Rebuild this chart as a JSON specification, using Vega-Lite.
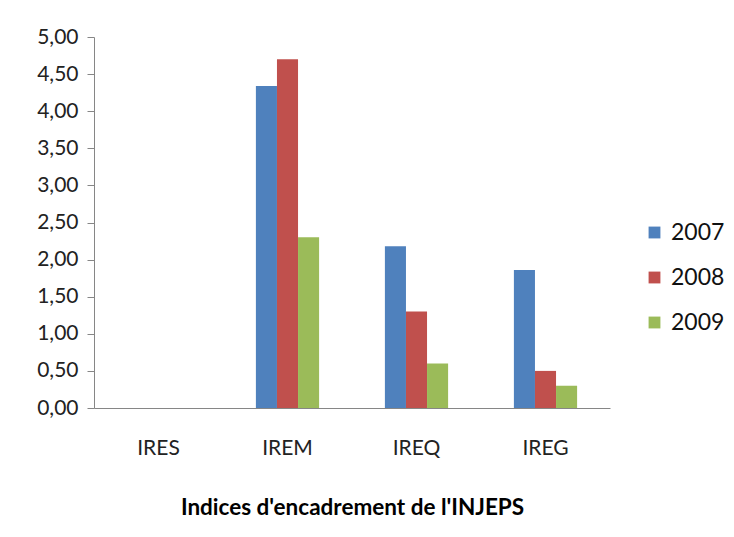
{
  "$schema": "https://vega.github.io/schema/vega-lite/v6.json",
  "width": 516,
  "height": 371,
  "autosize": "none",
  "padding": {"left": 94, "top": 37, "right": 124, "bottom": 129},
  "background": "white",
  "data": {
    "values": [
      {"indice": "IRES", "annee": "2007", "valeur": 0},
      {"indice": "IRES", "annee": "2008", "valeur": 0},
      {"indice": "IRES", "annee": "2009", "valeur": 0},
      {"indice": "IREM", "annee": "2007", "valeur": 4.34},
      {"indice": "IREM", "annee": "2008", "valeur": 4.70},
      {"indice": "IREM", "annee": "2009", "valeur": 2.30},
      {"indice": "IREQ", "annee": "2007", "valeur": 2.18},
      {"indice": "IREQ", "annee": "2008", "valeur": 1.30},
      {"indice": "IREQ", "annee": "2009", "valeur": 0.60},
      {"indice": "IREG", "annee": "2007", "valeur": 1.86},
      {"indice": "IREG", "annee": "2008", "valeur": 0.50},
      {"indice": "IREG", "annee": "2009", "valeur": 0.30}
    ]
  },
  "mark": {"type": "bar"},
  "encoding": {
    "x": {
      "field": "indice",
      "type": "nominal",
      "sort": ["IRES", "IREM", "IREQ", "IREG"],
      "scale": {"domain": ["IRES", "IREM", "IREQ", "IREG"], "paddingInner": 0.51, "paddingOuter": 0.255},
      "axis": {
        "title": "Indices d'encadrement de l'INJEPS",
        "labelAngle": 0,
        "ticks": false,
        "labelPadding": 29,
        "titlePadding": 38,
        "domainColor": "#868686",
        "labelFont": "Lato",
        "labelFontSize": 21,
        "labelColor": "#222222",
        "titleFont": "Lato",
        "titleFontSize": 22.5,
        "titleFontWeight": "bold",
        "titleColor": "#000000"
      }
    },
    "xOffset": {"field": "annee", "type": "nominal"},
    "y": {
      "field": "valeur",
      "type": "quantitative",
      "scale": {"domain": [0, 5]},
      "axis": {
        "title": null,
        "values": [0, 0.5, 1, 1.5, 2, 2.5, 3, 3.5, 4, 4.5, 5],
        "labelExpr": "replace(format(datum.value, '.2f'), '.', ',')",
        "grid": false,
        "tickSize": 7,
        "labelPadding": 9,
        "domainColor": "#868686",
        "tickColor": "#868686",
        "labelFont": "Lato",
        "labelFontSize": 21,
        "labelColor": "#222222"
      }
    },
    "color": {
      "field": "annee",
      "type": "nominal",
      "scale": {"domain": ["2007", "2008", "2009"], "range": ["#4F81BD", "#C0504D", "#9BBB59"]},
      "legend": {
        "title": null,
        "orient": "none",
        "legendX": 549,
        "legendY": 184,
        "symbolType": "square",
        "symbolSize": 140,
        "symbolStrokeWidth": 0,
        "labelFont": "Lato",
        "labelFontSize": 23,
        "labelColor": "#111111",
        "rowPadding": 21,
        "labelOffset": 5
      }
    }
  },
  "config": {"view": {"stroke": null}}
}
